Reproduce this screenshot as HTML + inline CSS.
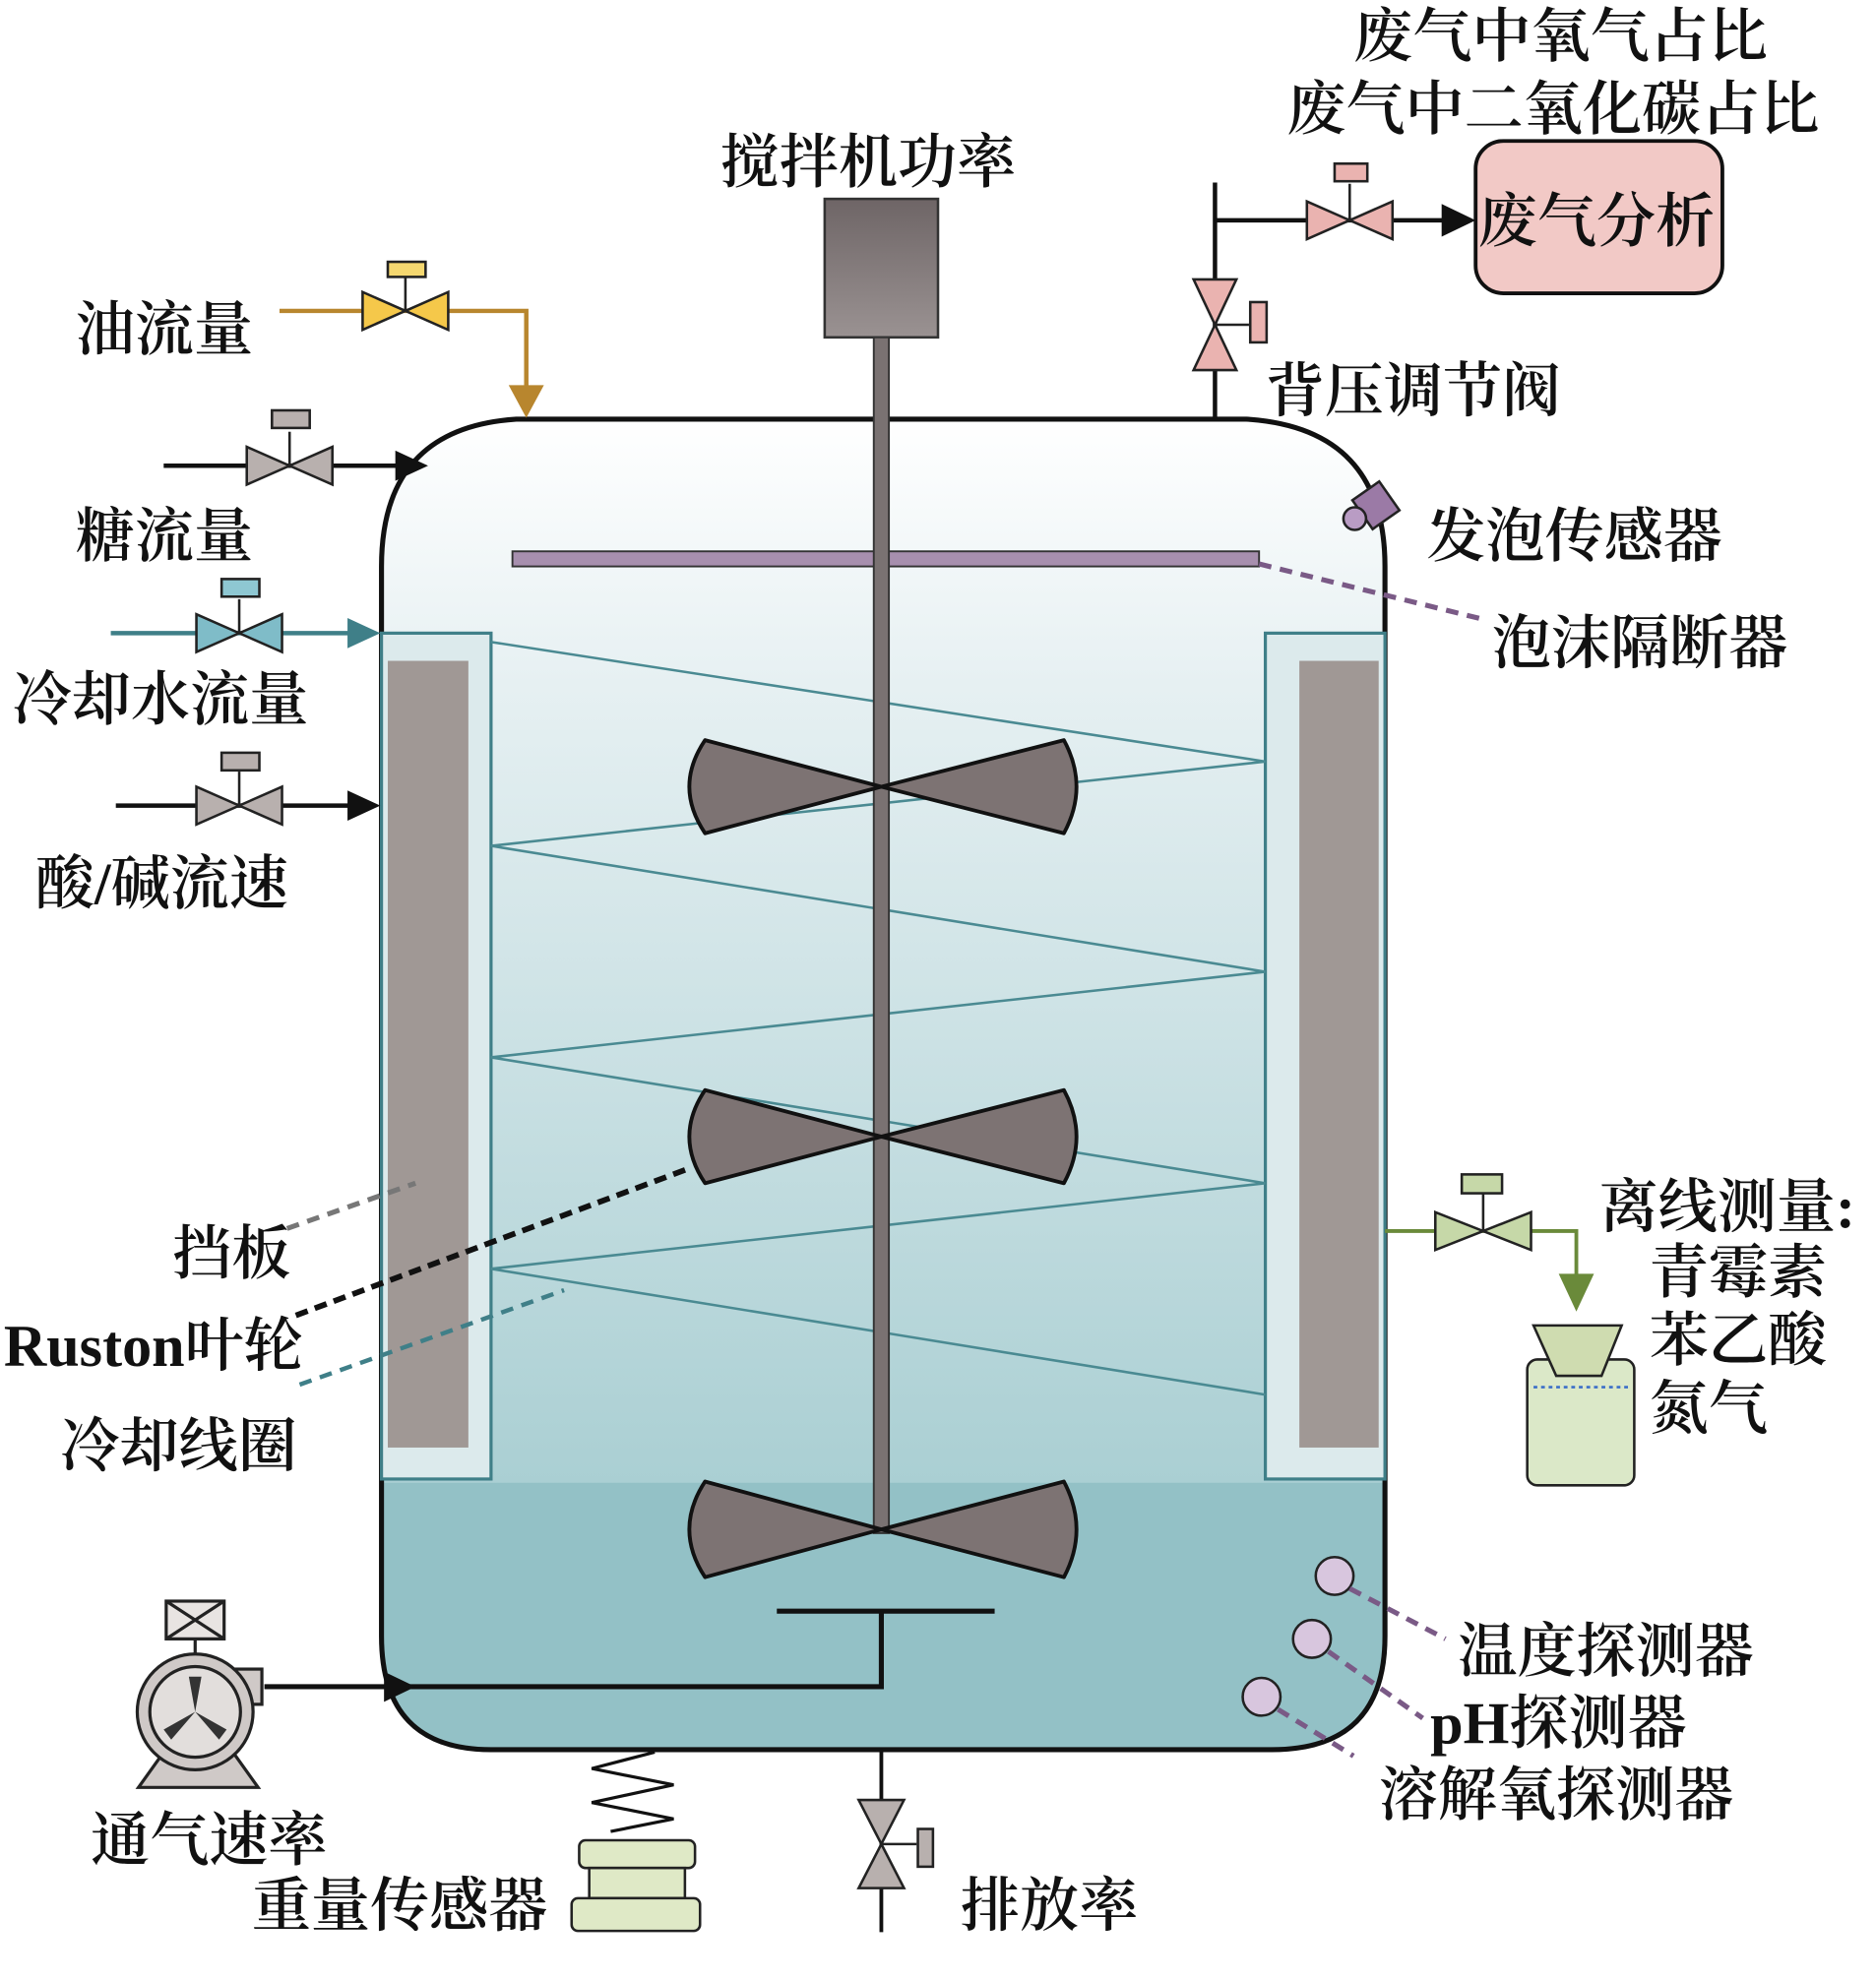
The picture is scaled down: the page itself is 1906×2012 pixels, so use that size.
<!DOCTYPE html>
<html><head><meta charset="utf-8"><style>
html,body{margin:0;padding:0;background:#fff;}
svg{display:block;}
text{font-family:"Liberation Serif","Noto Serif CJK SC",serif;font-size:47px;font-weight:600;fill:#111;}
</style></head><body>
<svg width="1906" height="2012" viewBox="0 0 1490 1573" preserveAspectRatio="none" xmlns="http://www.w3.org/2000/svg">
<defs>
<linearGradient id="liq" x1="0" y1="0" x2="0" y2="1">
<stop offset="0" stop-color="#ffffff"/>
<stop offset="0.2" stop-color="#e6f0f2"/>
<stop offset="0.8" stop-color="#aacfd3"/>
<stop offset="1" stop-color="#9cc6ca"/>
</linearGradient>
<linearGradient id="mot" x1="0" y1="0" x2="0" y2="1">
<stop offset="0" stop-color="#6e6566"/><stop offset="1" stop-color="#9a9292"/>
</linearGradient>
</defs>
<path d="M410,333 L990,333 Q1100,340 1100,450 L1100,1300 Q1100,1390 1010,1390 L390,1390 Q303,1390 303,1300 L303,450 Q303,340 410,333 Z" fill="url(#liq)" stroke="none"/>
<path d="M303,1178 L1100,1178 L1100,1300 Q1100,1390 1010,1390 L390,1390 Q303,1390 303,1300 Z" fill="#93c1c6"/>
<path d="M410,333 L990,333 Q1100,340 1100,450 L1100,1300 Q1100,1390 1010,1390 L390,1390 Q303,1390 303,1300 L303,450 Q303,340 410,333 Z" fill="none" stroke="#111" stroke-width="4"/>
<rect x="303" y="503" width="87" height="672" fill="#dceaec" stroke="#3f7f88" stroke-width="2.5"/>
<rect x="308" y="525" width="64" height="625" fill="#a09895"/>
<rect x="1005" y="503" width="95" height="672" fill="#dceaec" stroke="#3f7f88" stroke-width="2.5"/>
<rect x="1032" y="525" width="63" height="625" fill="#a09895"/>
<polyline points="390,510 1005,605 390,672 1005,772 390,840 1005,940 390,1008 1005,1108" fill="none" stroke="#4a8a92" stroke-width="2"/>
<rect x="407" y="438" width="593" height="12" fill="#a78fae" stroke="#333" stroke-width="1.5"/>
<line x1="1000" y1="448" x2="1178" y2="492" stroke="#7a5a86" stroke-width="4" stroke-dasharray="10,7"/>
<rect x="655" y="158" width="90" height="110" fill="url(#mot)" stroke="#333" stroke-width="2"/>
<rect x="694" y="268" width="12" height="950" fill="#7a7272" stroke="#333" stroke-width="1.5"/>
<g fill="#7d7373" stroke="#111" stroke-width="3" stroke-linejoin="round">
<path d="M700,625 L560,588 Q535,625 560,662 Z M700,625 L845,588 Q865,625 845,662 Z"/>
<path d="M700,903 L560,866 Q535,903 560,940 Z M700,903 L845,866 Q865,903 845,940 Z"/>
<path d="M700,1215 L560,1177 Q535,1215 560,1253 Z M700,1215 L845,1177 Q865,1215 845,1253 Z"/>
</g>
<line x1="617" y1="1280" x2="790" y2="1280" stroke="#111" stroke-width="4"/>
<polyline points="700,1280 700,1340 210,1340" fill="none" stroke="#111" stroke-width="4"/>
<polygon points="330,1340 305,1328 305,1352" fill="#111"/>
<polyline points="222,247 418,247 418,310" fill="none" stroke="#b8862e" stroke-width="3.5"/>
<polygon points="418,332 404,306 432,306" fill="#b8862e"/>
<g stroke="#222" stroke-width="2">
<polygon points="288,232 322,247 288,262" fill="#f5c84a"/><polygon points="356,232 322,247 356,262" fill="#f5c84a"/>
<line x1="322" y1="247" x2="322" y2="220"/><rect x="308" y="208" width="30" height="12" fill="#f5d870"/>
</g>
<line x1="130" y1="370" x2="318" y2="370" stroke="#111" stroke-width="3.5"/>
<polygon points="340,370 314,358 314,382" fill="#111"/>
<g stroke="#222" stroke-width="2">
<polygon points="196,355 230,370 196,385" fill="#b8b0ae"/><polygon points="264,355 230,370 264,385" fill="#b8b0ae"/>
<line x1="230" y1="370" x2="230" y2="343"/><rect x="216" y="326" width="30" height="14" fill="#b8b0ae"/>
</g>
<line x1="88" y1="503" x2="285" y2="503" stroke="#3f7f88" stroke-width="3.5"/>
<polygon points="302,503 276,491 276,515" fill="#3f7f88"/>
<g stroke="#222" stroke-width="2">
<polygon points="156,488 190,503 156,518" fill="#7fbcc8"/><polygon points="224,488 190,503 224,518" fill="#7fbcc8"/>
<line x1="190" y1="503" x2="190" y2="476"/><rect x="176" y="460" width="30" height="14" fill="#8ec7d2"/>
</g>
<line x1="92" y1="640" x2="285" y2="640" stroke="#111" stroke-width="3.5"/>
<polygon points="302,640 276,628 276,652" fill="#111"/>
<g stroke="#222" stroke-width="2">
<polygon points="156,625 190,640 156,655" fill="#b8b0ae"/><polygon points="224,625 190,640 224,655" fill="#b8b0ae"/>
<line x1="190" y1="640" x2="190" y2="613"/><rect x="176" y="598" width="30" height="14" fill="#b8b0ae"/>
</g>
<polyline points="965,333 965,145" fill="none" stroke="#111" stroke-width="3.5"/>
<line x1="965" y1="175" x2="1148" y2="175" stroke="#111" stroke-width="3.5"/>
<polygon points="1172,175 1145,162 1145,188" fill="#111"/>
<g stroke="#222" stroke-width="2">
<polygon points="1038,160 1072,175 1038,190" fill="#eab3b0"/><polygon points="1106,160 1072,175 1106,190" fill="#eab3b0"/>
<line x1="1072" y1="175" x2="1072" y2="146"/><rect x="1060" y="130" width="26" height="14" fill="#eab3b0"/>
<polygon points="948,222 965,258 982,222" fill="#eab3b0"/><polygon points="948,294 965,258 982,294" fill="#eab3b0"/>
<line x1="965" y1="258" x2="992" y2="258"/><rect x="993" y="240" width="13" height="32" fill="#eab3b0"/>
</g>
<rect x="1172" y="112" width="196" height="121" rx="22" fill="#f2c9c6" stroke="#111" stroke-width="3"/>
<g transform="translate(1092,402) rotate(-35)"><rect x="-12" y="-14" width="26" height="28" fill="#9b7aa6" stroke="#222" stroke-width="2"/></g>
<circle cx="1076" cy="412" r="9" fill="#b99cc4" stroke="#222" stroke-width="2"/>
<polyline points="1100,978 1252,978 1252,1020" fill="none" stroke="#6a8a3a" stroke-width="3"/>
<polygon points="1252,1042 1238,1012 1266,1012" fill="#6a8a3a"/>
<g stroke="#222" stroke-width="2">
<polygon points="1140,963 1178,978 1140,993" fill="#c6d8a8"/><polygon points="1216,963 1178,978 1216,993" fill="#c6d8a8"/>
<line x1="1178" y1="978" x2="1178" y2="948"/><rect x="1161" y="933" width="32" height="15" fill="#c6d8a8"/>
<rect x="1213" y="1080" width="85" height="100" rx="8" fill="#dbe8c8"/>
<polygon points="1218,1053 1288,1053 1272,1093 1236,1093" fill="#cfdcb0"/>
</g>
<line x1="1218" y1="1102" x2="1293" y2="1102" stroke="#3b6ec8" stroke-width="2" stroke-dasharray="3,3"/>
<g stroke="#222" stroke-width="2" fill="#d8c6de">
<circle cx="1060" cy="1252" r="15"/><circle cx="1042" cy="1302" r="15"/><circle cx="1002" cy="1348" r="15"/>
</g>
<g stroke="#7a5a86" stroke-width="4" stroke-dasharray="10,7">
<line x1="1072" y1="1262" x2="1148" y2="1302"/><line x1="1055" y1="1312" x2="1130" y2="1365"/><line x1="1015" y1="1358" x2="1075" y2="1395"/>
</g>
<line x1="228" y1="976" x2="330" y2="940" stroke="#777" stroke-width="4" stroke-dasharray="10,7"/>
<line x1="235" y1="1045" x2="548" y2="928" stroke="#111" stroke-width="4.5" stroke-dasharray="10,6"/>
<line x1="238" y1="1100" x2="448" y2="1025" stroke="#3f7f88" stroke-width="3.5" stroke-dasharray="10,7"/>
<line x1="700" y1="1390" x2="700" y2="1535" stroke="#111" stroke-width="3"/>
<g stroke="#222" stroke-width="2">
<polygon points="682,1430 700,1465 718,1430" fill="#b8b0ae"/><polygon points="682,1500 700,1465 718,1500" fill="#b8b0ae"/>
<line x1="700" y1="1465" x2="728" y2="1465"/><rect x="729" y="1453" width="12" height="30" fill="#b8b0ae"/>
</g>
<polyline points="520,1392 470,1405 535,1418 470,1432 535,1445 485,1455" fill="none" stroke="#111" stroke-width="2.5"/>
<g stroke="#222" stroke-width="2" fill="#dfe9c6">
<rect x="460" y="1462" width="92" height="22" rx="5"/><rect x="468" y="1484" width="76" height="24"/><rect x="454" y="1508" width="102" height="26" rx="5"/>
</g>
<g stroke="#222" stroke-width="2.5">
<rect x="132" y="1272" width="46" height="30" fill="#e8e4e2"/>
<line x1="132" y1="1272" x2="178" y2="1302"/><line x1="178" y1="1272" x2="132" y2="1302"/>
<line x1="155" y1="1302" x2="155" y2="1320"/>
<rect x="178" y="1326" width="30" height="28" fill="#cfc9c7"/>
<polygon points="110,1420 205,1420 180,1385 135,1385" fill="#cfc9c7"/>
<circle cx="155" cy="1360" r="46" fill="#cfc9c7"/>
<circle cx="155" cy="1360" r="36" fill="#e2dedc"/>
</g>
<g fill="#333"><path d="M155,1360 L150,1332 L160,1332 Z"/><path d="M155,1360 L180,1374 L174,1382 Z"/><path d="M155,1360 L130,1374 L136,1382 Z"/></g>
<text x="572" y="145">搅拌机功率</text>
<text x="1075" y="45">废气中氧气占比</text>
<text x="1022" y="103">废气中二氧化碳占比</text>
<text x="1174" y="192">废气分析</text>
<text x="1005" y="327">背压调节阀</text>
<text x="1133" y="442">发泡传感器</text>
<text x="1185" y="527">泡沫隔断器</text>
<text x="60" y="278">油流量</text>
<text x="60" y="442">糖流量</text>
<text x="10" y="572">冷却水流量</text>
<text x="28" y="718">酸/碱流速</text>
<text x="137" y="1012">挡板</text>
<text x="3" y="1085">Ruston叶轮</text>
<text x="48" y="1165">冷却线圈</text>
<text x="1270" y="975">离线测量:</text>
<text x="1310" y="1027">青霉素</text>
<text x="1310" y="1081">苯乙酸</text>
<text x="1310" y="1135">氮气</text>
<text x="1158" y="1328">温度探测器</text>
<text x="1136" y="1385">pH探测器</text>
<text x="1095" y="1442">溶解氧探测器</text>
<text x="72" y="1478">通气速率</text>
<text x="200" y="1530">重量传感器</text>
<text x="763" y="1530">排放率</text>
</svg>
</body></html>
